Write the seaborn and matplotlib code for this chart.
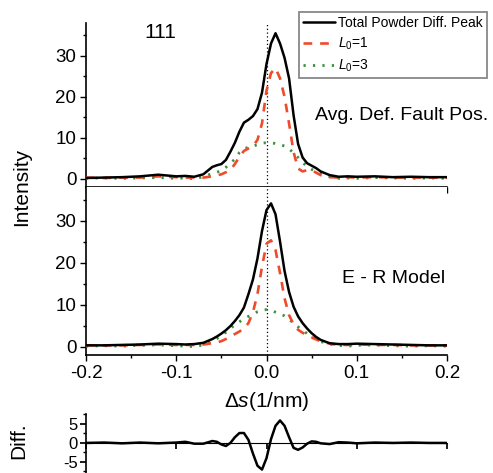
import matplotlib
matplotlib.use("Agg")
import matplotlib.pyplot as plt
from matplotlib.ticker import MultipleLocator
import numpy as np
import pandas as pd
import seaborn as sns

# ---------------- data ----------------
ds = [-0.2, -0.18, -0.16, -0.14, -0.12, -0.10, -0.09, -0.08, -0.07, -0.06,
      -0.055, -0.05, -0.045, -0.04, -0.035, -0.03, -0.025, -0.02, -0.015, -0.01,
      -0.005, 0.0, 0.005, 0.01, 0.015, 0.02, 0.025, 0.03, 0.035, 0.04,
      0.045, 0.05, 0.055, 0.06, 0.07, 0.08, 0.09, 0.10, 0.12, 0.14,
      0.16, 0.18, 0.2]

# Avg. Def. Fault Pos. panel
avg_total = [0.2, 0.3, 0.4, 0.6, 1.0, 0.6, 0.7, 0.5, 1.1, 2.9,
             3.3, 3.6, 4.6, 6.6, 8.8, 11.5, 13.7, 14.4, 15.3, 17.0,
             21.0, 28.0, 33.0, 35.5, 33.0, 29.5, 24.5, 15.5, 8.5, 5.2,
             3.8, 3.2, 2.6, 1.8, 0.9, 0.5, 0.6, 0.5, 0.6, 0.4,
             0.5, 0.4, 0.4]
avg_L1 = [0.3, 0.2, 0.3, 0.3, 0.6, 0.4, 0.3, 0.3, 0.3, 0.6,
          0.8, 1.1, 1.6, 2.2, 3.6, 5.4, 6.8, 7.4, 8.0, 9.5,
          13.5, 21.5, 25.8, 27.0, 24.5, 20.0, 13.5, 6.5, 2.5, 1.8,
          2.1, 2.1, 1.5, 0.9, 0.4, 0.3, 0.4, 0.3, 0.4, 0.3,
          0.3, 0.3, 0.3]
avg_L3 = [0.1, 0.2, 0.1, 0.2, 0.3, 0.1, 0.2, 0.0, 0.5, 1.3,
          1.6, 2.0, 2.8, 3.8, 4.8, 6.4, 7.3, 7.7, 8.0, 8.3,
          8.7, 8.8, 8.8, 8.6, 8.3, 8.0, 7.3, 6.3, 5.2, 4.0,
          3.0, 2.3, 1.8, 1.3, 0.5, 0.1, 0.2, 0.1, 0.3, 0.2,
          0.1, 0.2, 0.1]

# E - R Model panel
er_total = [0.3, 0.3, 0.4, 0.5, 0.7, 0.6, 0.5, 0.6, 0.9, 1.8,
            2.4, 3.1, 3.9, 4.9, 6.1, 7.5, 9.3, 12.5, 16.0, 21.0,
            27.5, 32.5, 34.1, 31.5, 25.0, 18.0, 13.0, 9.5, 7.2, 5.6,
            4.3, 3.2, 2.3, 1.6, 0.8, 0.6, 0.6, 0.7, 0.6, 0.5,
            0.4, 0.3, 0.3]
er_L1 = [0.3, 0.3, 0.3, 0.4, 0.5, 0.4, 0.4, 0.4, 0.5, 0.8,
         1.0, 1.3, 1.8, 2.4, 3.0, 3.6, 4.3, 5.6, 8.2, 12.5,
         19.0, 24.5, 25.3, 23.0, 17.5, 11.5, 7.5, 5.3, 4.0, 3.3,
         2.7, 2.2, 1.7, 1.3, 0.7, 0.4, 0.4, 0.5, 0.4, 0.4,
         0.3, 0.3, 0.3]
er_L3 = [0.1, 0.2, 0.1, 0.3, 0.4, 0.2, 0.1, 0.0, 0.4, 1.3,
         1.9, 2.6, 3.4, 4.3, 5.2, 5.9, 6.6, 7.2, 7.7, 8.3,
         8.7, 8.8, 8.6, 8.2, 7.8, 7.3, 6.5, 5.6, 4.7, 3.9,
         3.1, 2.5, 1.8, 1.2, 0.6, 0.3, 0.1, 0.3, 0.4, 0.2,
         0.1, 0.2, 0.1]

# Difference panel
diff = [0.0, 0.1, -0.1, 0.1, -0.1, 0.1, 0.3, -0.2, -0.2, 0.5,
        0.3, -0.4, -0.8, 0.0, 1.5, 2.6, 2.6, 0.8, -2.8, -6.0,
        -7.0, -4.0, 1.0, 4.5, 5.9, 4.5, 1.5, -1.3, -1.8, -1.2,
        -0.2, 0.4, 0.3, -0.1, -0.3, 0.2, 0.1, -0.1, 0.1, 0.0,
        0.1, 0.0, 0.0]

labels = ["Total Powder Diff. Peak", "$L_0$=1", "$L_0$=3"]
panel_titles = ["Avg. Def. Fault Pos.", "E - R Model"]
x_ticks = [-0.2, -0.1, 0.0, 0.1, 0.2]
y_ticks = [0, 10, 20, 30]
diff_ticks = [-5, 0, 5]

# ---------------- style ----------------
sns.set_theme(style="ticks")
plt.rcParams["font.family"] = ["Liberation Sans", "DejaVu Sans"]
plt.rcParams["mathtext.fontset"] = "custom"
plt.rcParams["mathtext.rm"] = "Liberation Sans"
plt.rcParams["mathtext.it"] = "Liberation Sans:italic"
plt.rcParams["axes.linewidth"] = 1.2
plt.rcParams["axes.edgecolor"] = "black"
plt.rcParams["xtick.color"] = "black"
plt.rcParams["ytick.color"] = "black"
plt.rcParams["text.color"] = "black"

BLACK = "#000000"
RED = "#ee4b2b"
GREEN = "#3d8f3d"

W, H = 493, 473
fig = plt.figure(figsize=(W / 100, H / 100), dpi=100)


def frac(left, top, right, bottom):
    return [left / W, 1 - bottom / H, (right - left) / W, (bottom - top) / H]


ax_top = fig.add_axes(frac(86, 23, 447, 187))
ax_bot = fig.add_axes(frac(86, 187, 447, 355))
ax_diff = fig.add_axes(frac(86, 414, 447, 473))

styles = [
    dict(color=BLACK, lw=1.8, linestyle="-"),
    dict(color=RED, lw=1.9, linestyle=(0, (3.3, 3.0))),
    dict(color=GREEN, lw=2.0, linestyle=(0, (0.8, 2.6))),
]

for ax, series, title, tx, ty in [
    (ax_top, [avg_total, avg_L1, avg_L3], panel_titles[0], 0.0537, 15.4),
    (ax_bot, [er_total, er_L1, er_L3], panel_titles[1], 0.0833, 16.3),
]:
    ax.axvline(0, color="black", lw=0.9, linestyle=(0, (1, 2)), zorder=1)
    for i in [2, 1, 0]:
        df = pd.DataFrame({"ds": ds, "I": series[i]})
        sns.lineplot(data=df, x="ds", y="I", ax=ax, label=labels[i],
                     legend=False, zorder=3 + (2 - i), **styles[i])
    ax.set_xlim(-0.2, 0.2)
    ax.set_ylim(-2, 38)
    ax.set_xticks(x_ticks)
    ax.xaxis.set_minor_locator(MultipleLocator(0.05))
    ax.set_yticks(y_ticks)
    ax.yaxis.set_minor_locator(MultipleLocator(5))
    ax.set_xlabel("")
    ax.set_ylabel("")
    for s in ["top", "right"]:
        ax.spines[s].set_visible(False)
    ax.tick_params(axis="both", which="major", direction="out", length=4.5,
                   width=1.0, labelsize=13.5, pad=2.5)
    ax.tick_params(axis="both", which="minor", direction="out", length=2.5,
                   width=1.0)
    ax.text(tx, ty, title, fontsize=14, ha="left", va="center")

ax_top.tick_params(axis="x", which="both", labelbottom=False)
ax_bot.set_xticklabels(["-0.2", "-0.1", "0.0", "0.1", "0.2"])
ax_top.set_yticklabels([str(v) for v in y_ticks])
ax_bot.set_yticklabels([str(v) for v in y_ticks])
ax_top.text(-0.118, 35.7, "111", fontsize=15, ha="center", va="center")

# legend
h, l = ax_top.get_legend_handles_labels()
hd = dict(zip(l, h))
leg = fig.legend([hd[k] for k in labels], labels, loc="upper left",
                 bbox_to_anchor=(299 / W, 1 - 12 / H), fontsize=10,
                 frameon=True, fancybox=False, edgecolor="#888888",
                 framealpha=1, handlelength=2.3, handletextpad=0.2,
                 labelspacing=0.4, borderpad=0.3, borderaxespad=0)
leg.get_frame().set_linewidth(1.3)

# difference panel
dfd = pd.DataFrame({"ds": ds, "d": diff})
sns.lineplot(data=dfd, x="ds", y="d", ax=ax_diff, color=BLACK, lw=1.8)
ax_diff.set_xlim(-0.2, 0.2)
ax_diff.set_ylim(-7.9, 7.6)
ax_diff.set_xlabel("")
ax_diff.set_ylabel("")
ax_diff.spines["top"].set_visible(False)
ax_diff.spines["right"].set_visible(False)
ax_diff.spines["bottom"].set_position(("data", 0))
ax_diff.spines["bottom"].set_linewidth(0.8)
ax_diff.set_xticks(x_ticks)
ax_diff.tick_params(axis="x", which="major", direction="out", length=4,
                    labelbottom=False)
ax_diff.set_yticks(diff_ticks)
ax_diff.set_yticklabels([str(v) for v in diff_ticks])
ax_diff.yaxis.set_minor_locator(MultipleLocator(2.5))
ax_diff.tick_params(axis="y", which="major", direction="out", length=4,
                    labelsize=12, pad=2)
ax_diff.tick_params(axis="y", which="minor", direction="out", length=2.5)

# axis labels
fig.text(22 / W, 1 - 187 / H, "Intensity", rotation=90, fontsize=15,
         ha="center", va="center")
fig.text(266.5 / W, 1 - 401 / H, "Δ$s$(1/nm)", fontsize=15,
         ha="center", va="center")
fig.text(19 / W, 1 - 441 / H, "Diff.", rotation=90, fontsize=15,
         ha="center", va="center")

fig.savefig("out.png", dpi=100)
